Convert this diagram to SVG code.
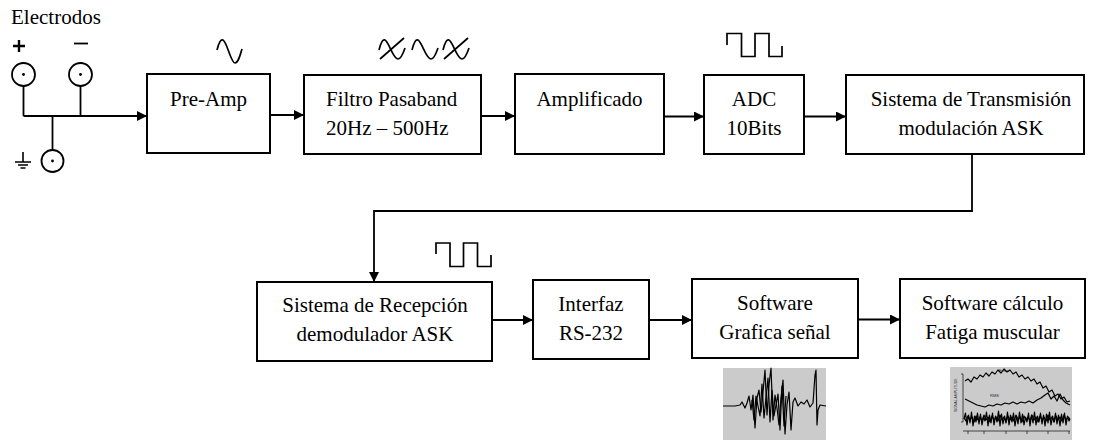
<svg xmlns="http://www.w3.org/2000/svg" width="1093" height="440" viewBox="0 0 1093 440">
  <style>
    .box { fill: #fff; stroke: #000; stroke-width: 2; }
    .lbl { font-family: "Liberation Serif", "Times New Roman", serif; font-size: 21px; fill: #000; }
    .mid { text-anchor: middle; }
    .wire { fill: none; stroke: #000; stroke-width: 1.8; }
    .icon { fill: none; stroke: #000; stroke-width: 1.7; stroke-linejoin: miter; }
    .trace { fill: none; stroke: #000; stroke-width: 1.2; stroke-linejoin: round; }
    .tiny { font-family: "Liberation Sans", Arial, sans-serif; font-size: 5px; fill: #222; }
  </style>
  <defs>
    <marker id="arrow" markerUnits="userSpaceOnUse" markerWidth="11" markerHeight="10" refX="10" refY="5" orient="auto">
      <path d="M0,0 L10,5 L0,10 Z" fill="#000"/>
    </marker>
  </defs>

  <rect width="1093" height="440" fill="#fff"/>

  <!-- electrode inputs -->
  <g id="electrodos">
    <text class="lbl" x="11" y="24">Electrodos</text>
    <path d="M13,46 H25 M19,40 V52" stroke="#000" stroke-width="2.4" fill="none"/>
    <path d="M74,43.5 H88" stroke="#000" stroke-width="1.8" fill="none"/>
    <circle cx="23.5" cy="74.5" r="11.5" fill="#fff" stroke="#000" stroke-width="1.8"/>
    <circle cx="23.5" cy="74.5" r="1.4" fill="#000"/>
    <circle cx="80.5" cy="74.5" r="11.5" fill="#fff" stroke="#000" stroke-width="1.8"/>
    <circle cx="80.5" cy="74.5" r="1.4" fill="#000"/>
    <circle cx="52.5" cy="161" r="11" fill="#fff" stroke="#000" stroke-width="1.8"/>
    <circle cx="52.5" cy="161" r="1.4" fill="#000"/>
    <!-- ground symbol -->
    <path d="M23,152 V162 M15,162 H31 M18,165 H28 M20.5,168 H25.5" stroke="#000" stroke-width="1.6" fill="none"/>
  </g>

  <!-- signal sketches above the blocks -->
  <g id="iconos">
    <path class="icon" d="M217,50 C219,42 221,39 223,40 C227,42 231,63 235,63 C238,63 240,56 242,49"/>
    <path class="icon" d="M379,50 C381,42 383,39 385,40 C389,42 393,59 398,59 C401,59 403,54 405,48 M380,59 L404,38"/>
    <path class="icon" d="M412,50 C414,42 416,39 418,40 C422,42 426,59 431,59 C434,59 436,54 438,48"/>
    <path class="icon" d="M443,50 C445,42 447,39 449,40 C453,42 457,59 462,59 C465,59 467,54 469,48 M444,59 L468,38"/>
    <path class="icon" d="M727,45 V33.5 H741.5 V56.5 H755 V33.5 H769 V56.5 H782 V46"/>
    <path class="icon" d="M436,254 V243 H450 V266.5 H463.5 V243 H477.5 V266.5 H491 V255"/>
  </g>

  <!-- top row -->
  <g id="preamp">
    <rect class="box" x="147" y="74" width="123" height="79"/>
    <text class="lbl mid" x="208.5" y="106">Pre-Amp</text>
  </g>
  <g id="filtro">
    <rect class="box" x="304" y="75" width="177" height="79"/>
    <text class="lbl" x="326" y="106">Filtro Pasaband</text>
    <text class="lbl" x="326" y="135">20Hz – 500Hz</text>
  </g>
  <g id="amplificado">
    <rect class="box" x="515" y="74" width="149" height="80"/>
    <text class="lbl mid" x="589.5" y="106">Amplificado</text>
  </g>
  <g id="adc">
    <rect class="box" x="704" y="75" width="100" height="79"/>
    <text class="lbl mid" x="754" y="106">ADC</text>
    <text class="lbl mid" x="754" y="135">10Bits</text>
  </g>
  <g id="transmision">
    <rect class="box" x="846" y="75" width="238" height="79"/>
    <text class="lbl mid" x="971" y="106">Sistema de Transmisión</text>
    <text class="lbl mid" x="971" y="135">modulación ASK</text>
  </g>

  <!-- bottom row -->
  <g id="recepcion">
    <rect class="box" x="257" y="282" width="235" height="79"/>
    <text class="lbl mid" x="375" y="312">Sistema de Recepción</text>
    <text class="lbl mid" x="375" y="341">demodulador ASK</text>
  </g>
  <g id="interfaz">
    <rect class="box" x="533" y="280" width="116" height="79"/>
    <text class="lbl mid" x="591" y="311">Interfaz</text>
    <text class="lbl mid" x="591" y="340">RS-232</text>
  </g>
  <g id="grafica">
    <rect class="box" x="692" y="279" width="166" height="79"/>
    <text class="lbl mid" x="775" y="310">Software</text>
    <text class="lbl mid" x="775" y="339">Grafica señal</text>
  </g>
  <g id="fatiga">
    <rect class="box" x="900" y="279" width="185" height="79"/>
    <text class="lbl mid" x="992.5" y="310">Software cálculo</text>
    <text class="lbl mid" x="992.5" y="339">Fatiga muscular</text>
  </g>

  <!-- connectors -->
  <g id="conexiones">
    <path class="wire" d="M23.5,86 V116 M80.5,86 V116 M52.5,116 V150"/>
    <path class="wire" d="M23.5,116 H147" marker-end="url(#arrow)"/>
    <path class="wire" d="M270,115 H304" marker-end="url(#arrow)"/>
    <path class="wire" d="M481,116 H515" marker-end="url(#arrow)"/>
    <path class="wire" d="M664,116.5 H704" marker-end="url(#arrow)"/>
    <path class="wire" d="M804,116.5 H846" marker-end="url(#arrow)"/>
    <path class="wire" d="M972,154 V211 H374 V282" marker-end="url(#arrow)"/>
    <path class="wire" d="M492,320 H533" marker-end="url(#arrow)"/>
    <path class="wire" d="M649,320 H692" marker-end="url(#arrow)"/>
    <path class="wire" d="M858,319.5 H900" marker-end="url(#arrow)"/>
  </g>

  <!-- raw EMG trace thumbnail -->
  <g id="senal">
    <rect x="723" y="368" width="103" height="72" fill="#cbcbcb"/>
    <polyline class="trace" stroke-width="1.4" points="723,406 735,406 740,405 742,402 745,408 747,403 749,396 751,410 753,395 755,428 757,398 759,390 761,412 763,392 765,370 767,415 769,385 771,368 773,420 775,395 777,408 779,425 781,398 783,380 785,434 787,405 789,392 791,430 793,402 795,398 798,406 801,402 804,404 807,400 810,407 813,403 815,375 816,370 817,425 818,410 820,405 826,406"/>
    <polyline class="trace" stroke-width="1" points="752,400 754,420 756,396 760,416 762,384 764,418 768,378 770,422 772,390 774,416 778,394 780,430 782,386 784,426 786,396"/>
  </g>

  <!-- force / RMS / EMG plot thumbnail -->
  <g id="grafico_fatiga">
    <rect x="950" y="367" width="122" height="73" fill="#cbcbcb"/>
    <text class="tiny" x="999" y="372" style="font-size:4px">Force</text>
    <text class="tiny" x="990" y="397" style="font-size:4px">RMS</text>
    <text class="tiny" transform="translate(957,412) rotate(-90)" style="font-size:3.5px">SIGNAL AMPLITUDE</text>
    <path d="M961,374 H963 V422 H961" fill="none" stroke="#222" stroke-width="0.8"/>
    <polyline class="trace" stroke-width="0.8" points="965,381 968,379 971,382 974,377 977,379 980,375 983,377 986,373 989,376 992,372 995,374 998,370 1001,373 1004,369 1007,372 1010,370 1013,374 1016,372 1019,377 1022,375 1025,379 1028,377 1031,381 1034,379 1037,384 1040,382 1043,388 1046,386 1049,392 1052,390 1055,396 1058,394 1061,399 1064,397 1067,402 1070,401"/>
    <polyline class="trace" stroke-width="0.8" points="965,399 969,401 973,403 977,405 981,406 985,407 989,405 993,406 997,404 1001,405 1005,403 1009,404 1013,402 1017,404 1021,402 1025,403 1029,401 1033,403 1037,400 1041,398 1045,395 1048,393 1051,399 1054,396 1057,401 1060,394 1063,400 1066,403 1070,405"/>
    <polyline class="trace" stroke-width="0.9" points="964,419 965.5,413 967,425 968.5,415 970,423 971.5,412 973,426 974.5,416 976,422 977.5,413 979,424 980.5,414 982,425 983.5,417 985,421 986.5,412 988,426 989.5,415 991,423 992.5,413 994,425 995.5,416 997,422 998.5,411 1000,426 1001.5,414 1003,424 1004.5,416 1006,423 1007.5,412 1009,425 1010.5,415 1012,422 1013.5,413 1015,426 1016.5,416 1018,424 1019.5,412 1021,423 1022.5,414 1024,425 1025.5,417 1027,422 1028.5,413 1030,426 1031.5,415 1033,423 1034.5,412 1036,425 1037.5,416 1039,422 1040.5,413 1042,424 1043.5,415 1045,426 1046.5,414 1048,423 1049.5,412 1051,425 1052.5,416 1054,422 1055.5,413 1057,424 1058.5,415 1060,426 1061.5,414 1063,423 1064.5,413 1066,425 1067.5,416 1069,421 1070,419"/>
    <polyline class="trace" stroke-width="0.7" points="964,418 966,421 968,416 970,420 972,417 974,422 976,416 978,420 980,417 982,421 984,415 986,420 988,417 990,422 992,416 994,420 996,417 998,421 1000,415 1002,420 1004,417 1006,422 1008,416 1010,420 1012,417 1014,421 1016,415 1018,420 1020,417 1022,422 1024,416 1026,420 1028,417 1030,421 1032,415 1034,420 1036,417 1038,422 1040,416 1042,420 1044,417 1046,421 1048,415 1050,420 1052,417 1054,422 1056,416 1058,420 1060,417 1062,421 1064,415 1066,420 1068,417 1070,419"/>
    <path d="M963,431 H1070 M968,431 V434 M984,431 V434 M1006,431 V434 M1027,431 V434 M1048,431 V434 M1069,431 V434" fill="none" stroke="#222" stroke-width="0.8"/>
  </g>
</svg>
